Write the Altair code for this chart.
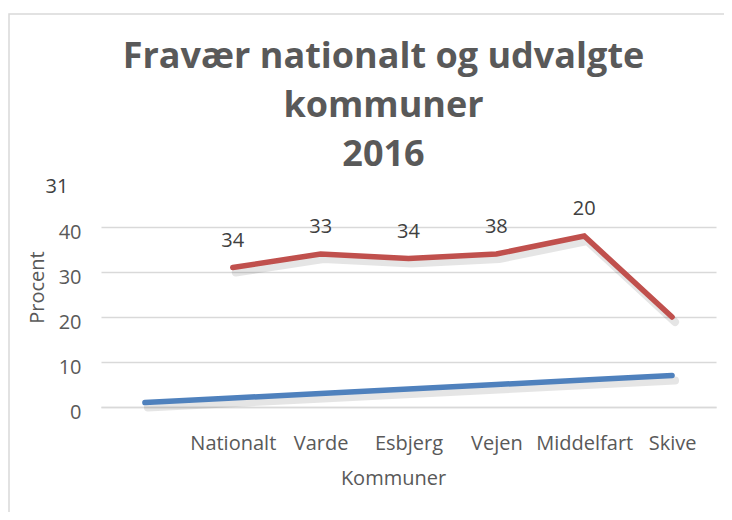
import altair as alt
import pandas as pd

# ---- data ----
categories = ["", "Nationalt", "Varde", "Esbjerg", "Vejen", "Middelfart", "Skive"]
series_blue = [1, 2, 3, 4, 5, 6, 7]
series_red = [None, 31, 34, 33, 34, 38, 20]
# data labels as Excel drew them (each label shows the next point's value)
label_cats = ["Nationalt", "Varde", "Esbjerg", "Vejen", "Middelfart"]
label_texts = ["34", "33", "34", "38", "20"]
stray_label_cat = [""]
stray_label_text = ["31"]
stray_label_value = [43]
y_ticks = [0, 10, 20, 30, 40]

rows = []
for c, b, r in zip(categories, series_blue, series_red):
    rows.append({"cat": c, "series": "Serie1", "value": b})
    if r is not None:
        rows.append({"cat": c, "series": "Serie2", "value": r})
lines_df = pd.DataFrame(rows)

red_lookup = dict(zip(categories, series_red))
labels_df = pd.DataFrame({
    "cat": label_cats,
    "text": label_texts,
    "value": [red_lookup[c] for c in label_cats],
})
stray_df = pd.DataFrame({"cat": stray_label_cat, "text": stray_label_text, "value": stray_label_value})

FONT = "Open Sans"
GRAY = "#595959"

x_enc = alt.X(
    "cat:N",
    sort=categories,
    scale=alt.Scale(type="point", domain=categories, padding=0.5),
    axis=alt.Axis(
        title="Kommuner",
        labelAngle=0,
        ticks=False,
        domainColor="#d9d9d9",
        domainWidth=1.5,
        labelPadding=26,
        labelFontSize=20,
        labelColor=GRAY,
        labelFont=FONT,
        titleFont=FONT,
        titleFontSize=20,
        titleFontWeight="normal",
        titleColor=GRAY,
        titleX=292,
        titleY=71,
        titleBaseline="middle",
        titleAlign="center",
        grid=False,
    ),
)
y_enc = alt.Y(
    "value:Q",
    scale=alt.Scale(domain=[0, 40], nice=False),
    axis=alt.Axis(
        title="Procent",
        values=y_ticks,
        domain=False,
        ticks=False,
        gridColor="#d9d9d9",
        gridWidth=1.5,
        labelPadding=20,
        labelFontSize=20,
        labelColor=GRAY,
        labelFont=FONT,
        labelOffset=5,
        titleFont=FONT,
        titleFontSize=20,
        titleFontWeight="normal",
        titleColor=GRAY,
        titleAngle=270,
        titleX=-64,
        titleY=60,
        titleAlign="center",
        titleBaseline="middle",
    ),
)
color_enc = alt.Color(
    "series:N",
    scale=alt.Scale(domain=["Serie1", "Serie2"], range=["#4F81BD", "#C0504D"]),
    legend=None,
)

shadow = alt.Chart(lines_df).mark_line(
    color="#000000", opacity=0.1, strokeWidth=8, strokeCap="round", xOffset=3, yOffset=5
).encode(x=x_enc, y=y_enc, detail="series:N")

lines = alt.Chart(lines_df).mark_line(strokeWidth=5.5, strokeCap="round", strokeJoin="miter").encode(
    x=x_enc, y=y_enc, color=color_enc
)

labels = alt.Chart(labels_df).mark_text(
    font=FONT, fontSize=20, color="#404040", dy=-27, baseline="middle"
).encode(x=alt.X("cat:N", sort=categories), y="value:Q", text="text:N")

stray = alt.Chart(stray_df).mark_text(
    font=FONT, fontSize=20, color="#404040", dy=-27, dx=-88, baseline="middle"
).encode(x=alt.X("cat:N", sort=categories), y="value:Q", text="text:N")

frame = alt.Chart(pd.DataFrame({"a": [0]})).mark_rect(
    fill=None, stroke="#d9d9d9", strokeWidth=1.5
).encode(x=alt.value(-92), x2=alt.value(800), y=alt.value(-213), y2=alt.value(400))

chart = alt.layer(frame, shadow, lines, labels, stray).properties(
    width=615,
    height=180,
    title=alt.TitleParams(
        text=["Fravær nationalt og udvalgte", "kommuner", "2016"],
        font=FONT,
        fontSize=36,
        fontWeight="bold",
        color=GRAY,
        lineHeight=49,
        anchor="middle",
        dx=-25,
        offset=-161,
    ),
    autosize=alt.AutoSizeParams(type="none"),
    padding={"left": 93, "top": 219, "right": 8, "bottom": 105},
).configure(background="white").configure_view(stroke=None)

chart.save("out.html", embed_options={"renderer": "svg", "actions": False})
